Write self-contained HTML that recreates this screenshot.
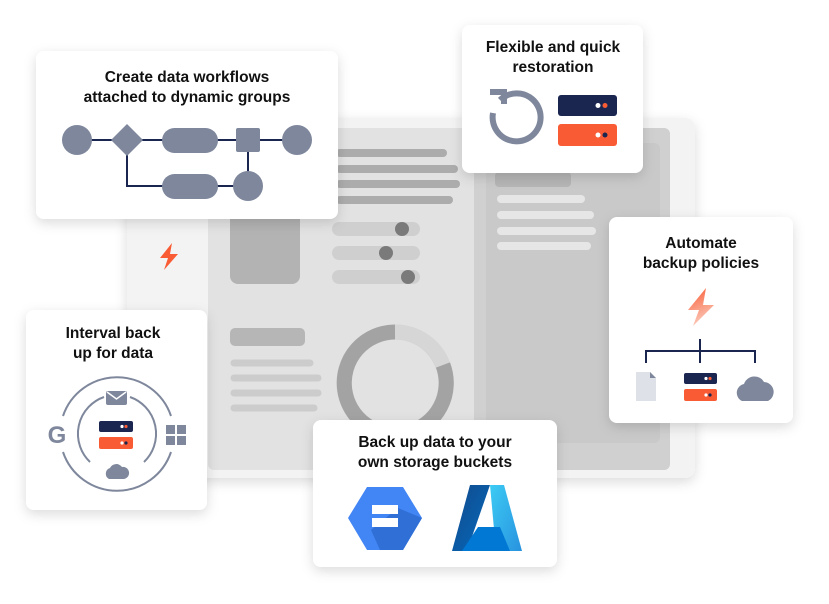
<!DOCTYPE html>
<html><head><meta charset="utf-8"><style>
html,body{margin:0;padding:0;background:#fff;width:829px;height:604px;overflow:hidden}
svg{display:block}
text{font-family:"Liberation Sans",sans-serif;font-weight:bold;font-size:15.5px;fill:#111;text-anchor:middle}
</style></head><body>
<svg width="829" height="604" viewBox="0 0 829 604" xmlns="http://www.w3.org/2000/svg">
<defs>
<filter id="sh" x="-20%" y="-20%" width="140%" height="150%"><feDropShadow dx="0" dy="4" stdDeviation="6" flood-color="#000" flood-opacity="0.14"/></filter>
<linearGradient id="bolt" x1="0" y1="0" x2="0.3" y2="1"><stop offset="0" stop-color="#f95c35"/><stop offset="1" stop-color="#fbc8b8"/></linearGradient>
<linearGradient id="az1" x1="0" y1="0" x2="1" y2="1"><stop offset="0" stop-color="#114a8b"/><stop offset="1" stop-color="#0669bc"/></linearGradient>
<linearGradient id="az2" x1="0" y1="0" x2="1" y2="1"><stop offset="0" stop-color="#3ccbf4"/><stop offset="1" stop-color="#2892df"/></linearGradient>
</defs>
<!-- device -->
<rect x="127" y="118" width="568" height="360" rx="10" fill="#f3f3f3" filter="url(#sh)"/>
<rect x="208" y="128" width="462" height="342" rx="6" fill="#e2e2e2"/>
<rect x="474" y="128" width="196" height="342" rx="6" fill="#d0d0d0"/>
<rect x="486" y="143" width="174" height="300" rx="6" fill="#c9c9c9"/>
<rect x="495" y="172" width="76" height="15" rx="4" fill="#b5b5b5"/>
<g stroke="#e6e6e6" stroke-width="8" stroke-linecap="round">
<line x1="501" y1="199" x2="581" y2="199"/><line x1="501" y1="215" x2="590" y2="215"/><line x1="501" y1="231" x2="592" y2="231"/><line x1="501" y1="246" x2="587" y2="246"/></g>
<g stroke="#acacac" stroke-width="8" stroke-linecap="round">
<line x1="340" y1="153" x2="443" y2="153"/><line x1="340" y1="169" x2="454" y2="169"/><line x1="340" y1="184" x2="456" y2="184"/><line x1="340" y1="200" x2="449" y2="200"/></g>
<rect x="230" y="205" width="70" height="79" rx="8" fill="#b3b3b3"/>
<g stroke="#cfcfcf" stroke-width="14" stroke-linecap="round">
<line x1="339" y1="229" x2="413" y2="229"/><line x1="339" y1="253" x2="413" y2="253"/><line x1="339" y1="277" x2="413" y2="277"/></g>
<circle cx="402" cy="229" r="7" fill="#7a7a7a"/><circle cx="386" cy="253" r="7" fill="#7a7a7a"/><circle cx="408" cy="277" r="7" fill="#7a7a7a"/>
<rect x="230" y="328" width="75" height="18" rx="5" fill="#b6b6b6"/>
<g stroke="#cccccc" stroke-width="7" stroke-linecap="round">
<line x1="234" y1="363" x2="310" y2="363"/><line x1="234" y1="378" x2="318" y2="378"/><line x1="234" y1="393" x2="318" y2="393"/><line x1="234" y1="408" x2="314" y2="408"/></g>
<circle cx="395" cy="383" r="51" fill="none" stroke="#cbcbcb" stroke-width="15"/>
<path d="M395 332 A51 51 0 0 1 443 365" fill="none" stroke="#d6d6d6" stroke-width="15"/>
<path d="M443 365 A51 51 0 1 1 395 332" fill="none" stroke="#a3a3a3" stroke-width="15"/>
<path d="M172 243 L160 258 L168 258 L164 270 L178 254 L170 254 Z" fill="#f95c35"/>

<!-- workflow card -->
<rect x="36" y="51" width="302" height="168" rx="8" fill="#fff" filter="url(#sh)"/>
<text x="187" y="82">Create data workflows</text>
<text x="187" y="102">attached to dynamic groups</text>
<g stroke="#1a2550" stroke-width="2" fill="none">
<line x1="77" y1="140" x2="297" y2="140"/><polyline points="127,140 127,186 248,186"/><line x1="248" y1="140" x2="248" y2="186"/></g>
<g fill="#7e879c">
<circle cx="77" cy="140" r="15"/><path d="M127 124 L143 140 L127 156 L111 140Z"/>
<rect x="162" y="128" width="56" height="25" rx="12.5"/><rect x="236" y="128" width="24" height="24" rx="2"/>
<circle cx="297" cy="140" r="15"/><rect x="162" y="174" width="56" height="25" rx="12.5"/><circle cx="248" cy="186" r="15"/></g>

<!-- restoration card -->
<rect x="462" y="25" width="181" height="148" rx="8" fill="#fff" filter="url(#sh)"/>
<text x="553" y="52">Flexible and quick</text>
<text x="553" y="72">restoration</text>
<path d="M500 100 A24 24 0 1 1 493 113" fill="none" stroke="#7e879c" stroke-width="6"/>
<path d="M490 92 L504 92 L504 104" fill="none" stroke="#7e879c" stroke-width="6"/>
<rect x="558" y="95" width="59" height="21" rx="3" fill="#1a2550"/><circle cx="598" cy="105.5" r="2.5" fill="#fff"/><circle cx="605" cy="105.5" r="2.5" fill="#f95c35"/>
<rect x="558" y="124" width="59" height="22" rx="3" fill="#f95c35"/><circle cx="598" cy="135" r="2.5" fill="#fff"/><circle cx="605" cy="135" r="2.5" fill="#1a2550"/>

<!-- automate card -->
<rect x="609" y="217" width="184" height="206" rx="8" fill="#fff" filter="url(#sh)"/>
<text x="701" y="248">Automate</text>
<text x="701" y="268">backup policies</text>
<path d="M706 288 L688 310 L699 310 L693 326 L714 305 L703 305 Z" fill="url(#bolt)"/>
<g stroke="#1a2550" stroke-width="2" fill="none"><polyline points="646,363 646,351 755,351 755,363"/><line x1="700" y1="339" x2="700" y2="363"/></g>
<path d="M636 372 L650 372 L656 378 L656 401 L636 401Z" fill="#dfe1e8"/><path d="M650 372 L656 378 L650 378Z" fill="#7e879c"/>
<rect x="684" y="373" width="33" height="11" rx="2" fill="#1a2550"/><circle cx="706" cy="378.5" r="1.6" fill="#fff"/><circle cx="710" cy="378.5" r="1.6" fill="#f95c35"/>
<rect x="684" y="389" width="33" height="12" rx="2" fill="#f95c35"/><circle cx="706" cy="395" r="1.6" fill="#fff"/><circle cx="710" cy="395" r="1.6" fill="#1a2550"/>
<path d="M742 401 A9 9 0 0 1 744 384 A11 11 0 0 1 764 382 A10 10 0 0 1 768 401 Z" fill="#7e879c"/>

<!-- interval card -->
<rect x="26" y="310" width="181" height="200" rx="8" fill="#fff" filter="url(#sh)"/>
<text x="113" y="338">Interval back</text>
<text x="113" y="358">up for data</text>
<g fill="none" stroke="#7e879c" stroke-width="2">
<path d="M63 416 A57 57 0 0 1 171 416"/><path d="M171 452 A57 57 0 0 1 63 452"/>
<path d="M104 397 A39 39 0 0 0 90 462"/><path d="M130 397 A39 39 0 0 1 144 462"/></g>
<text x="57" y="443" style="font-size:24px;fill:#7e879c">G</text>
<g fill="#7e879c"><rect x="166" y="425" width="9" height="9"/><rect x="177" y="425" width="9" height="9"/><rect x="166" y="436" width="9" height="9"/><rect x="177" y="436" width="9" height="9"/></g>
<rect x="106" y="391" width="21" height="14" rx="2" fill="#7e879c"/><path d="M107 392 L116.5 399 L126 392" fill="none" stroke="#fff" stroke-width="1.5"/>
<rect x="99" y="421" width="34" height="11" rx="2" fill="#1a2550"/><circle cx="122" cy="426.5" r="1.6" fill="#fff"/><circle cx="126" cy="426.5" r="1.6" fill="#f95c35"/>
<rect x="99" y="437" width="34" height="12" rx="2" fill="#f95c35"/><circle cx="122" cy="443" r="1.6" fill="#fff"/><circle cx="126" cy="443" r="1.6" fill="#1a2550"/>
<path d="M109 479 A6 6 0 0 1 110 468 A7 7 0 0 1 122 467 A6 6 0 0 1 124 479Z" fill="#7e879c"/>

<!-- bucket card -->
<rect x="313" y="420" width="244" height="147" rx="8" fill="#fff" filter="url(#sh)"/>
<text x="435" y="447">Back up data to your</text>
<text x="435" y="467">own storage buckets</text>
<path d="M367 487 L403 487 L422 518 L403 550 L367 550 L348 518Z" fill="#4285f4"/>
<path d="M398 508 L422 518 L403 550 L380 550 L371 530Z" fill="#2f6fd6"/>
<rect x="372" y="505" width="26" height="9" fill="#fff"/><rect x="372" y="518" width="26" height="9" fill="#fff"/>
<path d="M470 485 L490 485 L467 551 L452 551 Z" fill="url(#az1)"/>
<path d="M490 485 L504 485 L522 551 L496 551 Z" fill="url(#az2)"/>
<path d="M478 527 L500 527 L510 551 L462 551Z" fill="#0078d4"/>
</svg>
</body></html>
